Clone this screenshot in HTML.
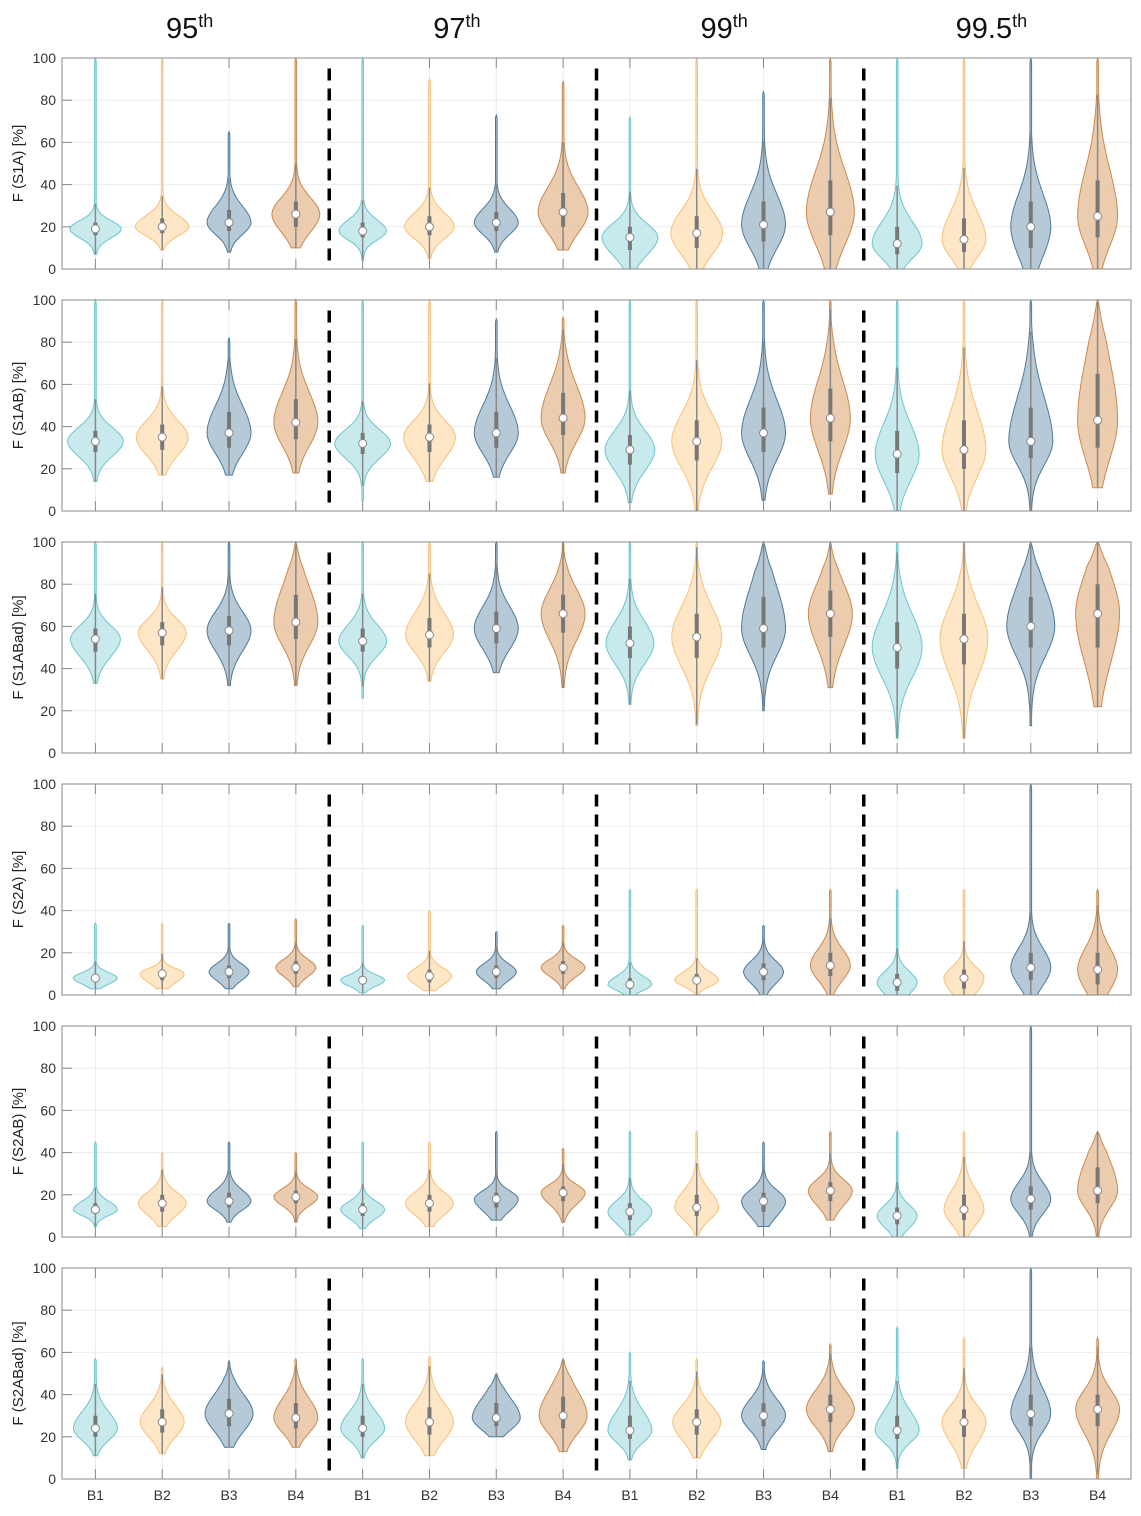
<!DOCTYPE html>
<html><head><meta charset="utf-8"><style>
body{margin:0;background:#fff;}
svg text{font-family:"Liberation Sans",sans-serif;}
</style></head><body>
<svg id="chart" width="1141" height="1511" xmlns="http://www.w3.org/2000/svg"></svg>
<script>
// group titles and categories
const groups = ["95", "97", "99", "99.5"];
const categories = ["B1","B2","B3","B4"];
const panelLabels = ["F (S1A) [%]","F (S1AB) [%]","F (S1ABad) [%]","F (S2A) [%]","F (S2AB) [%]","F (S2ABad) [%]"];
const yTicks = [0,20,40,60,80,100];
// each violin: [min, max, median, q1, q3, halfWidthScale]
const panelS1A = [
 [7,100,19,16,22,26],[9,100,20,17,24,27],[8,65,22,18,28,22],[10,100,26,20,32,24],
 [4,100,18,15,22,24],[5,90,20,16,25,25],[8,73,22,18,27,22],[9,89,27,20,36,25],
 [0,72,15,9,20,28],[0,100,17,10,25,26],[0,84,21,13,32,22],[0,100,27,16,42,24],
 [0,100,12,7,20,25],[0,100,14,8,24,22],[0,100,20,10,32,20],[0,100,25,15,42,20]];
const panelS1AB = [
 [14,100,33,28,38,28],[17,100,35,29,41,26],[17,82,37,30,47,22],[18,100,42,34,53,22],
 [5,100,32,27,37,28],[14,100,35,28,41,26],[16,91,37,30,47,22],[18,92,44,36,56,22],
 [4,100,29,22,36,25],[0,100,33,24,43,25],[5,100,37,28,49,22],[8,100,44,33,58,20],
 [0,100,27,18,38,22],[0,100,29,20,43,22],[0,100,33,25,49,22],[11,100,43,30,65,20]];
const panelS1ABad = [
 [33,100,54,48,59,25],[35,100,57,51,62,24],[32,100,58,51,65,22],[32,100,62,54,75,22],
 [26,100,53,48,59,24],[34,100,56,50,64,24],[38,100,59,52,67,22],[31,100,66,57,75,22],
 [23,100,52,45,60,24],[13,100,55,45,66,25],[20,100,59,50,74,22],[31,100,66,55,77,22],
 [7,100,50,40,62,25],[7,100,54,42,66,24],[13,100,60,50,74,24],[22,100,66,50,80,22]];
const panelS2A = [
 [3,34,8,6,10,22],[3,34,10,7,12,22],[3,34,11,8,14,20],[4,36,13,10,16,20],
 [1,33,7,5,9,22],[2,40,9,6,12,22],[3,30,11,8,14,20],[3,33,13,10,16,22],
 [0,50,5,3,8,22],[0,50,7,5,10,22],[0,33,11,7,15,20],[0,50,14,9,20,20],
 [0,50,6,2,10,20],[0,50,8,3,12,20],[0,100,13,7,20,20],[0,50,12,5,20,20]];
const panelS2AB = [
 [5,45,13,11,16,22],[5,40,16,12,20,24],[7,45,17,14,21,22],[7,40,19,16,22,22],
 [4,45,13,10,16,22],[5,45,16,12,20,24],[8,50,18,14,21,22],[7,42,21,17,24,22],
 [1,50,12,8,16,22],[1,50,14,10,20,22],[5,45,17,12,21,22],[8,50,22,17,26,22],
 [0,50,10,6,14,20],[0,50,13,8,20,20],[0,100,18,13,24,20],[0,50,22,16,33,20]];
const panelS2ABad = [
 [11,57,24,20,30,22],[12,53,27,22,33,22],[15,56,31,25,38,24],[15,57,29,24,36,22],
 [10,57,24,20,30,22],[11,58,27,21,34,24],[20,50,29,25,36,24],[13,57,30,24,39,24],
 [9,60,23,19,30,22],[10,57,27,21,33,24],[14,56,30,25,36,22],[13,64,33,27,40,24],
 [5,72,23,19,30,22],[5,67,27,20,33,22],[0,100,31,25,40,20],[0,67,33,25,40,22]];
const panels = [panelS1A,panelS1AB,panelS1ABad,panelS2A,panelS2AB,panelS2ABad];

const NS="http://www.w3.org/2000/svg";
const svg=document.getElementById('chart');
function mk(tag,attrs,parent){const e=document.createElementNS(NS,tag);for(const k in attrs)e.setAttribute(k,attrs[k]);(parent||svg).appendChild(e);return e;}
const X0=62,X1=1131,PH=211,PTOP=58,PSTEP=242;
const nSlots=16, slotW=(X1-X0)/nSlots;
const xPos=i=>X0+(i+0.5)*slotW;
const fills=["#bfe6ea","#fde3bd","#a9bfcf","#e9c3a1"];
const strokes=["#6cc5cf","#f7c07a","#4d7a9b","#c98a50"];

groups.forEach((g,gi)=>{
  const t=mk('text',{x:X0+(gi*4+2)*slotW-6,y:38,'text-anchor':'middle','font-size':29,fill:'#111'});
  
  
  t.textContent=g;
  const s=mk('tspan',{'font-size':18,dy:-11},t);s.textContent='th';
});

panels.forEach((pd,pi)=>{
  const top=PTOP+pi*PSTEP, bot=top+PH;
  const yS=v=>bot-v/100*PH;
  const gp=mk('g',{});
  
  
  yTicks.forEach(v=>{
    mk('line',{x1:X0,x2:X1,y1:yS(v),y2:yS(v),stroke:'#ebebeb','stroke-width':1},gp);
    mk('line',{x1:X0,x2:X0+10,y1:yS(v),y2:yS(v),stroke:'#888','stroke-width':1},gp);
    const tl=mk('text',{x:X0-6,y:yS(v)+5,'text-anchor':'end','font-size':14,fill:'#333'},gp);
    
    
    tl.textContent=v;
  });
  for(let i=0;i<nSlots;i++){
    mk('line',{x1:xPos(i),x2:xPos(i),y1:top,y2:bot,stroke:'#ebebeb','stroke-width':1},gp);
    mk('line',{x1:xPos(i),x2:xPos(i),y1:bot,y2:bot-10,stroke:'#888','stroke-width':1},gp);
    mk('line',{x1:xPos(i),x2:xPos(i),y1:top,y2:top+10,stroke:'#888','stroke-width':1},gp);
  }
  const yl=mk('text',{x:0,y:0,'text-anchor':'middle','font-size':15,fill:'#222',transform:`translate(23,${top+PH/2}) rotate(-90)`},gp);
  
  
  yl.textContent=panelLabels[pi];
  pd.forEach((d,i)=>{
    const [mn,mx,md,q1,q3,w]=d;
    const c=i%4, cx=xPos(i);
    const sLo=Math.max((md-q1)*1.4,1.5), sHi=Math.max((q3-md)*1.3,1.5);
    const N=60, pts=[];
    for(let k=0;k<=N;k++){
      const v=mn+(mx-mn)*k/N;
      const z=v<md?(v-md)/sLo:(v-md)/sHi;
      let h=w*(0.93*Math.exp(-0.5*z*z)+0.07*Math.exp(-Math.abs(z)/3));
      const tp=Math.min(1,(mx-v)/Math.max(mx-md,1)*3);
      h*=Math.sqrt(Math.max(tp,0));
      h=Math.max(h,k===N?0:0.8);
      pts.push([v,h]);
    }
    let dstr='';
    pts.forEach((p,k)=>{dstr+=(k?'L':'M')+(cx+p[1]).toFixed(1)+','+yS(p[0]).toFixed(1);});
    for(let k=pts.length-1;k>=0;k--)dstr+='L'+(cx-pts[k][1]).toFixed(1)+','+yS(pts[k][0]).toFixed(1);
    dstr+='Z';
    const vp=mk('path',{d:dstr,fill:fills[c],stroke:strokes[c],'stroke-width':1,'fill-opacity':0.85},gp);
    
    
    const iqr=q3-q1;
    const wl=Math.max(mn,q1-1.5*iqr), wh=Math.min(mx,q3+1.5*iqr);
    mk('line',{x1:cx,x2:cx,y1:yS(wl),y2:yS(wh),stroke:'#888','stroke-width':1.5},gp);
    mk('line',{x1:cx,x2:cx,y1:yS(q1),y2:yS(q3),stroke:'#777','stroke-width':4},gp);
    const mc=mk('circle',{cx:cx,cy:yS(md),r:4,fill:'#fff',stroke:'#888','stroke-width':1},gp);
    
    
  });
  [4,8,12].forEach(s=>{
    const dl=mk('line',{x1:X0+s*slotW,x2:X0+s*slotW,y1:yS(95),y2:bot,stroke:'#000','stroke-width':3.5,'stroke-dasharray':'12,8'},gp);
    
    
  });
  mk('rect',{x:X0,y:top,width:X1-X0,height:PH,fill:'none',stroke:'#888','stroke-width':1},gp);
});
for(let i=0;i<nSlots;i++){
  const t=mk('text',{x:xPos(i),y:1500,'text-anchor':'middle','font-size':14,fill:'#333'});
  
  
  t.textContent=categories[i%4];
}
</script>
</body></html>
